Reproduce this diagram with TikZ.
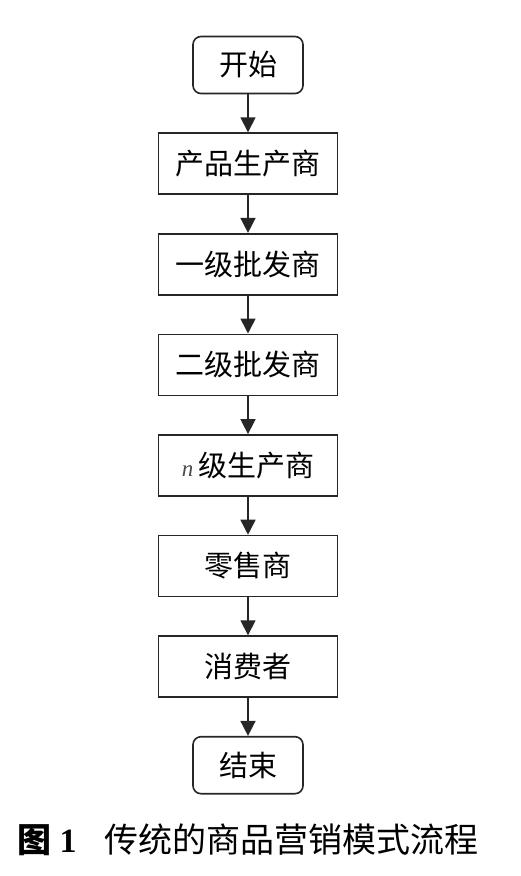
\documentclass[tikz,border=0pt]{standalone}
\usepackage{fontspec}
\setmainfont{Liberation Serif}
\newfontfamily\cjk{Noto Sans CJK SC}
\usetikzlibrary{arrows.meta, positioning}

\begin{document}
\begin{tikzpicture}[
    x=1pt, y=-1pt,
    node distance=38pt,
    font=\cjk\fontsize{29}{34}\selectfont,
    sbox/.style={rectangle, draw=black!85, line width=1.6pt, rounded corners=8pt,
                 minimum width=110pt, minimum height=57pt, inner sep=0pt},
    pbox/.style={rectangle, draw=black!85, line width=1.6pt,
                 minimum width=179pt, minimum height=61pt, inner sep=0pt},
    arr/.style={-{Triangle[length=15pt, width=15pt]}, line width=1.6pt, black!85},
  ]
    \useasboundingbox (0,0) rectangle (521,876);

    \node[sbox] (start) at (248,65) {开始};
    \node[pbox, below=of start]  (maker)   {产品生产商};
    \node[pbox, below=of maker]  (whole1)  {一级批发商};
    \node[pbox, below=of whole1] (whole2)  {二级批发商};
    \node[pbox, below=of whole2] (wholen)  {{\rmfamily\itshape\fontsize{23}{26}\selectfont\color{black!70}n}\,级生产商};
    \node[pbox, below=of wholen] (retail)  {零售商};
    \node[pbox, below=of retail] (consum)  {消费者};
    \node[sbox, below=of consum] (stop)    {结束};

    % flow
    \draw[arr] (start)  -- (maker);
    \draw[arr] (maker)  -- (whole1);
    \draw[arr] (whole1) -- (whole2);
    \draw[arr] (whole2) -- (wholen);
    \draw[arr] (wholen) -- (retail);
    \draw[arr] (retail) -- (consum);
    \draw[arr] (consum) -- (stop);

    % caption
    \node[below=29pt of stop, inner sep=0pt, font=\cjk\fontsize{34}{40}\selectfont] (cap)
      {{\bfseries 图}\hspace{8pt}{\rmfamily\bfseries 1}\hspace{28pt}传统的商品营销模式流程};
\end{tikzpicture}
\end{document}
